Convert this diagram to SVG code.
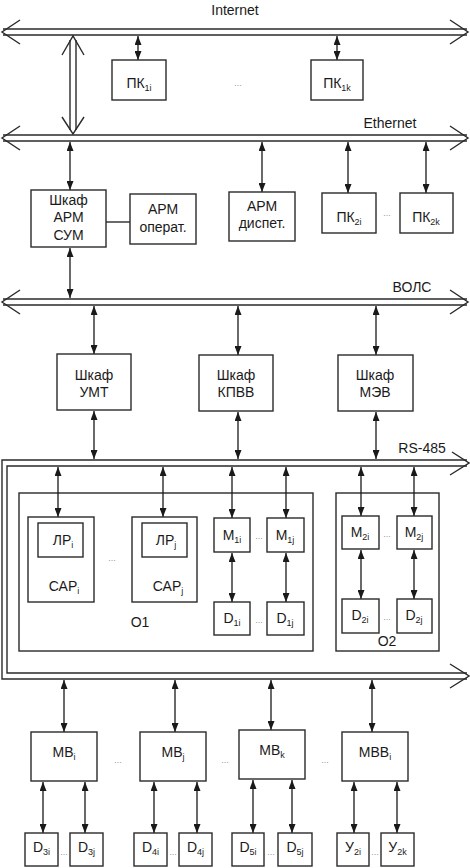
<svg xmlns="http://www.w3.org/2000/svg" width="470" height="868" viewBox="0 0 470 868">
<defs>
<marker id="ah" markerUnits="userSpaceOnUse" markerWidth="9" markerHeight="7" refX="9" refY="3.5" orient="auto-start-reverse">
<path d="M0,0 L9,3.5 L0,7 z" fill="#1a1a1a"/>
</marker>
</defs>
<style>
.bx{fill:#fff;stroke:#2a2a2a;stroke-width:1.4}
.ct{fill:none;stroke:#2a2a2a;stroke-width:1.4}
.ln{fill:none;stroke:#2a2a2a;stroke-width:1.4}
.ar{fill:none;stroke:#1a1a1a;stroke-width:1.3;marker-start:url(#ah);marker-end:url(#ah)}
.t{font-family:"Liberation Sans",Arial,sans-serif;font-size:14px;fill:#1a1a1a;text-anchor:middle}
.s{font-size:9px}
.d{font-family:"Liberation Sans",Arial,sans-serif;font-size:9px;fill:#999;text-anchor:middle}
</style>
<rect width="470" height="868" fill="#fff"/>

<g id="buses">
<g id="internet">
<line class="ln" x1="3" y1="29" x2="467" y2="29"/>
<line class="ln" x1="3" y1="35" x2="467" y2="35"/>
<polyline class="ln" points="20,20 2,32 20,44"/>
<polyline class="ln" points="450,20 468,32 450,44"/>
<text class="t" x="235" y="15">Internet</text>
</g>
<g id="ethernet">
<line class="ln" x1="3" y1="135" x2="467" y2="135"/>
<line class="ln" x1="3" y1="141" x2="467" y2="141"/>
<polyline class="ln" points="20,126 2,138 20,150"/>
<polyline class="ln" points="450,126 468,138 450,150"/>
<text class="t" x="390" y="128">Ethernet</text>
</g>
<g id="vols">
<line class="ln" x1="3" y1="299" x2="467" y2="299"/>
<line class="ln" x1="3" y1="305" x2="467" y2="305"/>
<polyline class="ln" points="20,290 2,302 20,314"/>
<polyline class="ln" points="450,290 468,302 450,314"/>
<text class="t" x="412" y="292">ВОЛС</text>
</g>
<g id="rs485">
<path class="ln" d="M467,460 H2 V679 H467"/>
<path class="ln" d="M467,466 H7 V673 H467"/>
<polyline class="ln" points="452,452 469,463 450,475"/>
<polyline class="ln" points="450,664 469,676 450,688"/>
<text class="t" x="422" y="453">RS-485</text>
</g>
</g>

<g id="o1">
<rect class="ct" x="19" y="493" width="294" height="158"/>
<text class="t" x="140" y="627">O1</text>
</g>
<g id="o2">
<rect class="ct" x="336" y="493" width="103" height="158"/>
<text class="t" x="387" y="646">O2</text>
</g>

<g id="connectors">
<line class="ln" x1="70" y1="40" x2="70" y2="130"/>
<line class="ln" x1="76" y1="40" x2="76" y2="130"/>
<polyline class="ln" points="62,55 73,36 84,55"/>
<polyline class="ln" points="62,117 73,134 84,117"/>
<line class="ar" x1="138" y1="36" x2="138" y2="60"/>
<line class="ar" x1="337" y1="36" x2="337" y2="60"/>
<line class="ar" x1="70" y1="142" x2="70" y2="190"/>
<line class="ar" x1="262" y1="142" x2="262" y2="192"/>
<line class="ar" x1="348" y1="142" x2="348" y2="193"/>
<line class="ar" x1="426" y1="142" x2="426" y2="193"/>
<line class="ln" x1="106" y1="222" x2="130" y2="222"/>
<line class="ar" x1="70" y1="248" x2="70" y2="298"/>
<line class="ar" x1="94" y1="306" x2="94" y2="354"/>
<line class="ar" x1="238" y1="306" x2="238" y2="355"/>
<line class="ar" x1="376" y1="306" x2="376" y2="355"/>
<line class="ar" x1="94" y1="411" x2="94" y2="459"/>
<line class="ar" x1="238" y1="412" x2="238" y2="459"/>
<line class="ar" x1="376" y1="412" x2="376" y2="459"/>
<line class="ar" x1="58" y1="467" x2="58" y2="517"/>
<line class="ar" x1="163" y1="467" x2="163" y2="517"/>
<line class="ar" x1="232" y1="467" x2="232" y2="518"/>
<line class="ar" x1="286" y1="467" x2="286" y2="518"/>
<line class="ar" x1="361" y1="467" x2="361" y2="516"/>
<line class="ar" x1="414" y1="467" x2="414" y2="516"/>
<line class="ar" x1="232" y1="553" x2="232" y2="602"/>
<line class="ar" x1="286" y1="553" x2="286" y2="602"/>
<line class="ar" x1="361" y1="550" x2="361" y2="599"/>
<line class="ar" x1="414" y1="550" x2="414" y2="599"/>
<line class="ar" x1="64" y1="680" x2="64" y2="732"/>
<line class="ar" x1="175" y1="680" x2="175" y2="732"/>
<line class="ar" x1="271" y1="680" x2="271" y2="730"/>
<line class="ar" x1="372" y1="680" x2="372" y2="732"/>
<line class="ar" x1="43" y1="782" x2="43" y2="833"/>
<line class="ar" x1="85" y1="782" x2="85" y2="833"/>
<line class="ar" x1="154" y1="782" x2="154" y2="833"/>
<line class="ar" x1="197" y1="782" x2="197" y2="833"/>
<line class="ar" x1="253" y1="780" x2="253" y2="833"/>
<line class="ar" x1="292" y1="780" x2="292" y2="833"/>
<line class="ar" x1="354" y1="782" x2="354" y2="833"/>
<line class="ar" x1="397" y1="782" x2="397" y2="833"/>
</g>

<g id="pk1i"><rect class="bx" x="112" y="60" width="54" height="40"/><text class="t" x="139" y="88">ПК<tspan class="s" dy="3">1i</tspan></text></g>
<g id="pk1k"><rect class="bx" x="311" y="60" width="52" height="40"/><text class="t" x="337" y="88">ПК<tspan class="s" dy="3">1k</tspan></text></g>
<text class="d" x="238" y="86">...</text>

<g id="shkaf-arm-sum"><rect class="bx" x="31" y="190" width="75" height="57"/><text class="t" x="68.5" y="205">Шкаф</text><text class="t" x="68.5" y="222">АРМ</text><text class="t" x="68.5" y="240">СУМ</text></g>
<g id="arm-operat"><rect class="bx" x="130" y="194" width="66" height="50"/><text class="t" x="163" y="214">АРМ</text><text class="t" x="163" y="232">операт.</text></g>
<g id="arm-dispet"><rect class="bx" x="229" y="192" width="66" height="49"/><text class="t" x="262" y="211">АРМ</text><text class="t" x="262" y="228">диспет.</text></g>
<g id="pk2i"><rect class="bx" x="322" y="193" width="54" height="40"/><text class="t" x="349" y="222">ПК<tspan class="s" dy="3">2i</tspan></text></g>
<g id="pk2k"><rect class="bx" x="400" y="193" width="53" height="40"/><text class="t" x="426" y="222">ПК<tspan class="s" dy="3">2k</tspan></text></g>
<text class="d" x="387" y="216">...</text>

<g id="shkaf-umt"><rect class="bx" x="57" y="354" width="74" height="56"/><text class="t" x="94" y="380">Шкаф</text><text class="t" x="94" y="397">УМТ</text></g>
<g id="shkaf-kpvv"><rect class="bx" x="199" y="355" width="74" height="56"/><text class="t" x="236" y="380">Шкаф</text><text class="t" x="236" y="397">КПВВ</text></g>
<g id="shkaf-mev"><rect class="bx" x="338" y="355" width="75" height="56"/><text class="t" x="375" y="380">Шкаф</text><text class="t" x="375" y="397">МЭВ</text></g>

<g id="sar-i"><rect class="bx" x="28" y="517" width="66" height="85"/><rect class="bx" x="38" y="523" width="45" height="34"/><text class="t" x="63" y="545">ЛР<tspan class="s" dy="3">i</tspan></text><text class="t" x="64" y="591">САР<tspan class="s" dy="3">i</tspan></text></g>
<g id="sar-j"><rect class="bx" x="132" y="517" width="65" height="85"/><rect class="bx" x="142" y="523" width="45" height="34"/><text class="t" x="166" y="545">ЛР<tspan class="s" dy="3">j</tspan></text><text class="t" x="168" y="591">САР<tspan class="s" dy="3">j</tspan></text></g>
<text class="d" x="112" y="561">...</text>
<g id="m1i"><rect class="bx" x="214" y="518" width="36" height="34"/><text class="t" x="232" y="540">M<tspan class="s" dy="3">1i</tspan></text></g>
<g id="m1j"><rect class="bx" x="267" y="518" width="37" height="34"/><text class="t" x="285" y="540">M<tspan class="s" dy="3">1j</tspan></text></g>
<text class="d" x="259" y="539">...</text>
<g id="d1i"><rect class="bx" x="214" y="602" width="36" height="33"/><text class="t" x="232" y="623">D<tspan class="s" dy="3">1i</tspan></text></g>
<g id="d1j"><rect class="bx" x="267" y="602" width="37" height="33"/><text class="t" x="285" y="623">D<tspan class="s" dy="3">1j</tspan></text></g>
<text class="d" x="259" y="623">...</text>

<g id="m2i"><rect class="bx" x="342" y="516" width="37" height="33"/><text class="t" x="360" y="537">M<tspan class="s" dy="3">2i</tspan></text></g>
<g id="m2j"><rect class="bx" x="397" y="516" width="35" height="33"/><text class="t" x="414" y="537">M<tspan class="s" dy="3">2j</tspan></text></g>
<text class="d" x="387" y="537">...</text>
<g id="d2i"><rect class="bx" x="342" y="599" width="37" height="34"/><text class="t" x="360" y="620">D<tspan class="s" dy="3">2i</tspan></text></g>
<g id="d2j"><rect class="bx" x="397" y="599" width="35" height="34"/><text class="t" x="414" y="620">D<tspan class="s" dy="3">2j</tspan></text></g>
<text class="d" x="387" y="620">...</text>

<g id="mv-i"><rect class="bx" x="31" y="732" width="66" height="49"/><text class="t" x="64" y="757">МВ<tspan class="s" dy="3">i</tspan></text></g>
<g id="mv-j"><rect class="bx" x="140" y="732" width="66" height="49"/><text class="t" x="173" y="757">МВ<tspan class="s" dy="3">j</tspan></text></g>
<g id="mv-k"><rect class="bx" x="239" y="730" width="66" height="49"/><text class="t" x="272" y="755">МВ<tspan class="s" dy="3">k</tspan></text></g>
<g id="mvv-i"><rect class="bx" x="342" y="732" width="66" height="49"/><text class="t" x="375" y="757">МВВ<tspan class="s" dy="3">i</tspan></text></g>
<text class="d" x="118" y="763">...</text>
<text class="d" x="225" y="763">...</text>
<text class="d" x="325" y="763">...</text>

<g id="d3i"><rect class="bx" x="25" y="833" width="33" height="33"/><text class="t" x="41.5" y="852">D<tspan class="s" dy="3">3i</tspan></text></g>
<g id="d3j"><rect class="bx" x="70" y="833" width="33" height="33"/><text class="t" x="86.5" y="852">D<tspan class="s" dy="3">3j</tspan></text></g>
<text class="d" x="64" y="855">...</text>
<g id="d4i"><rect class="bx" x="134" y="833" width="33" height="33"/><text class="t" x="150.5" y="852">D<tspan class="s" dy="3">4i</tspan></text></g>
<g id="d4j"><rect class="bx" x="179" y="833" width="33" height="33"/><text class="t" x="195.5" y="852">D<tspan class="s" dy="3">4j</tspan></text></g>
<text class="d" x="173" y="855">...</text>
<g id="d5i"><rect class="bx" x="232" y="833" width="32" height="33"/><text class="t" x="248" y="852">D<tspan class="s" dy="3">5i</tspan></text></g>
<g id="d5j"><rect class="bx" x="278" y="833" width="34" height="33"/><text class="t" x="295" y="852">D<tspan class="s" dy="3">5j</tspan></text></g>
<text class="d" x="271" y="855">...</text>
<g id="u2i"><rect class="bx" x="337" y="833" width="32" height="33"/><text class="t" x="353" y="852">У<tspan class="s" dy="3">2i</tspan></text></g>
<g id="u2k"><rect class="bx" x="381" y="833" width="33" height="33"/><text class="t" x="397.5" y="852">У<tspan class="s" dy="3">2k</tspan></text></g>
<text class="d" x="375" y="855">...</text>
</svg>
